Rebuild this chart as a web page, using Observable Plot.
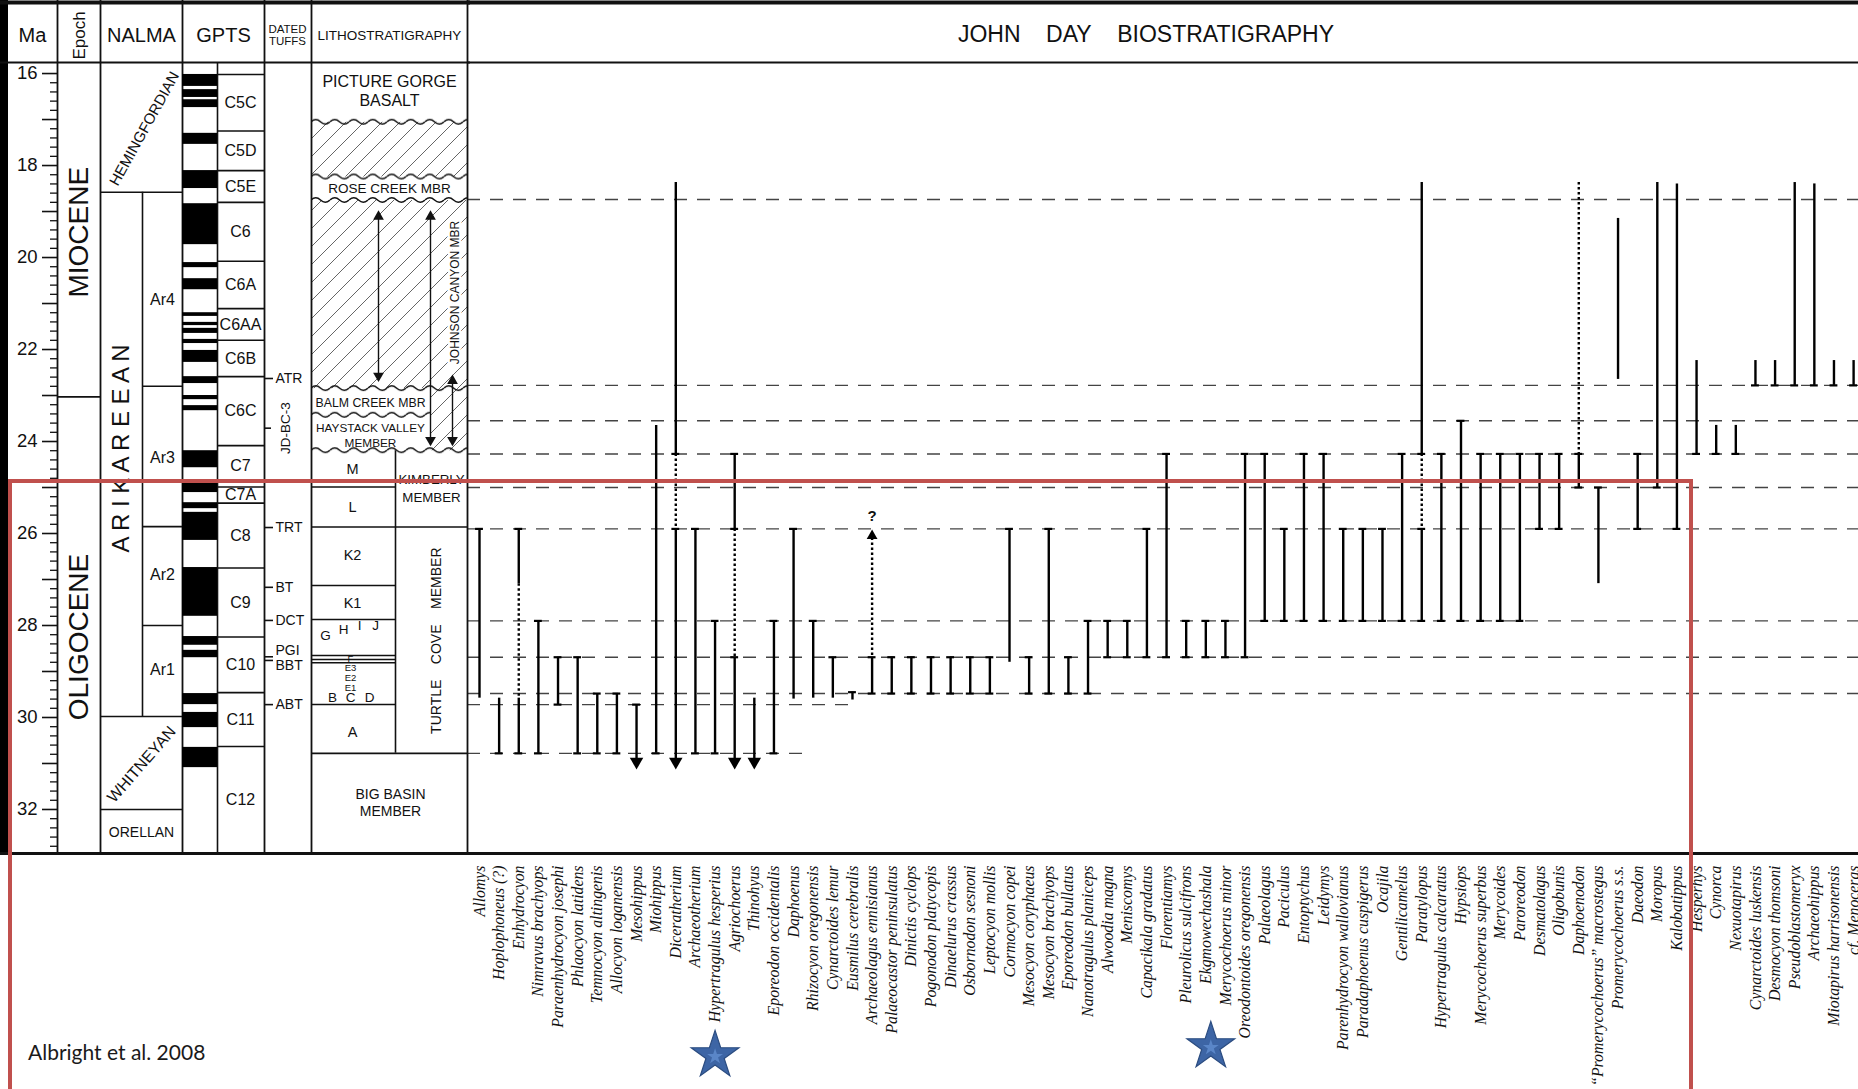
<!DOCTYPE html>
<html><head><meta charset="utf-8">
<script src="https://cdn.jsdelivr.net/npm/d3@7"></script>
<script src="https://cdn.jsdelivr.net/npm/@observablehq/plot@0.6"></script>
<style>
html,body{margin:0;padding:0;background:#fff;}
#wrap{position:relative;width:1858px;height:1089px;overflow:hidden;background:#fff;}
.layer{position:absolute;left:0;top:0;}
#redbox{position:absolute;left:8px;top:479px;width:1685px;height:700px;border:4px solid #C0504D;box-sizing:border-box;pointer-events:none;}
#cite{position:absolute;left:28px;top:1041px;font:21px Lato,'Open Sans',sans-serif;color:#1a1a1a;line-height:1;}
</style></head>
<body>
<div id="wrap"><div class="layer" id="R"></div><div class="layer" id="L"></div><div id="redbox"></div><div id="cite">Albright et al. 2008</div></div>
<script>
// ---------------- DATA ----------------
const MA_DOMAIN = [15.76, 32.957];
const maTicks = [16, 18, 20, 22, 24, 26, 28, 30, 32];

const epochs = ["MIOCENE", "OLIGOCENE"];
const epochBoundary = [23.03];
const epochLabelAt = [19.45, 28.25];

const nalma = ["HEMINGFORDIAN", "A R I K A R E E A N", "WHITNEYAN", "ORELLAN"];
const nalmaBoundaries = [18.58, 29.98, 32.0];
const nalmaLabelAt = [17.2, 24.15, 31.02, 32.49];
const subages = ["Ar4", "Ar3", "Ar2", "Ar1"];
const subageBounds = [18.58, 22.8, 25.85, 28.0, 29.98];
const subageLabelAt = [20.93, 24.35, 26.9, 28.97];

const chrons = ["C5C","C5D","C5E","C6","C6A","C6AA","C6B","C6C","C7","C7A","C8","C9","C10","C11","C12"];
const chronBounds = [16.02,17.25,18.11,18.80,20.08,21.11,21.80,22.59,24.09,24.99,25.34,26.75,28.25,29.46,30.63,32.957];
const normalTop  = [16.02,16.35,16.57,17.30,18.11,18.83,20.11,20.46,21.20,21.41,21.54,21.78,22.02,22.59,23.00,23.22,24.20,24.91,25.33,25.54,26.74,28.24,28.54,29.48,29.89,30.65];
const normalBase = [16.28,16.52,16.74,17.54,18.50,19.72,20.22,20.70,21.28,21.48,21.65,21.87,22.28,22.74,23.09,23.33,24.57,25.11,25.46,26.15,27.80,28.43,28.70,29.72,30.22,31.09];

const tuffs = ["ATR","TRT","BT","DCT","PGI","BBT","ABT"];
const tuffAge = [22.63, 25.87, 27.17, 27.89, 28.68, 28.76, 29.72];
const tuffLabelAt = [22.63, 25.87, 27.17, 27.89, 28.55, 28.88, 29.72];
const jdTuff = ["JD-BC-3"];
const jdTuffAge = [23.71];

const hatchTop = [17.06, 18.76, 22.85];
const hatchBase = [18.25, 22.85, 24.2];
const hatchZone = ["litho", "litho", "johnson"];
const wavyLevels = [17.06, 18.25, 18.76, 22.85, 23.43, 24.2];
const wavyZone = ["litho", "litho", "litho", "litho", "upperL", "litho"];
const lithoLeftBounds = [24.99, 25.86, 27.13, 27.87, 28.65, 28.74, 28.81, 29.72];
const lithoRightBounds = [25.86];
const lithoBaseBound = [30.78];
const lithoSplitSpan = [24.2, 30.78];
const lithoArrowTop = [18.98, 18.98, 22.55];
const lithoArrowBase = [22.7, 24.1, 24.1];

const lithoLabels = ["PICTURE GORGE\nBASALT", "ROSE CREEK MBR", "BALM CREEK MBR", "HAYSTACK VALLEY\nMEMBER", "KIMBERLY\nMEMBER", "BIG BASIN\nMEMBER"];
const lithoLabelAt = [16.36, 18.5, 23.17, 23.86, 24.99, 31.84];
const johnsonLabel = ["JOHNSON CANYON MBR"];
const johnsonLabelAt = [20.76];
const turtleLabel = ["TURTLE\u00a0\u00a0\u00a0\u00a0COVE\u00a0\u00a0\u00a0\u00a0MEMBER"];
const turtleLabelAt = [28.33];
const unitLetters = ["M", "L", "K2", "K1", "A"];
const unitLetterAt = [24.6, 25.44, 26.48, 27.52, 30.33];
const bedLetters = ["G", "H", "I", "J", "B", "C", "D"];
const bedLetterAt = [28.22, 28.09, 28.0, 28.0, 29.57, 29.57, 29.57];
const fineBeds = ["F", "E3", "E2", "E1"];
const fineBedAt = [28.72, 28.93, 29.13, 29.35];

const headers = ["Ma", "Epoch", "NALMA", "GPTS", "DATED\nTUFFS", "LITHOSTRATIGRAPHY"];
const mainTitle = ["JOHN\u00a0\u00a0\u00a0\u00a0DAY\u00a0\u00a0\u00a0\u00a0BIOSTRATIGRAPHY"];

const taxa = ["Allomys","Hoplophoneus (?)","Enhydrocyon","Nimravus brachyops","Paraenhydrocyon josephi","Phlaocyon latidens","Temnocyon altingenis","Allocyon loganensis","Mesohippus","Miohippus","Diceratherium","Archaeotherium","Hypertragulus hesperius","Agriochoerus","Thinohyus","Eporeodon occidentalis","Daphoenus","Rhizocyon oregonensis","Cynarctoides lemur","Eusmilus cerebralis","Archaeolagus ennisianus","Palaeocastor peninsulatus","Dinictis cyclops","Pogonodon platycopis","Dinaelurus crassus","Osbornodon sesnoni","Leptocyon mollis","Cormocyon copei","Mesocyon coryphaeus","Mesocyon brachyops","Eporeodon bullatus","Nanotragulus planiceps","Alwoodia magna","Meniscomys","Capacikala gradatus","Florentiamys","Pleurolicus sulcifrons","Ekgmowechashala","Merycochoerus minor","Oreodontoides oregonensis","Palaeolagus","Paciculus","Entoptychus","Leidymys","Parenhydrocyon wallovianus","Paradaphoenus cuspigerus","Ocajila","Gentilicamelus","Paratylopus","Hypertragulus calcaratus","Hypsiops","Merycochoerus superbus","Merycoides","Paroreodon","Desmatolagus","Oligobunis","Daphoenodon","\u201cPromerycochoerus\u201d macrostegus","Promerycochoerus s.s.","Daeodon","Moropus","Kalobatippus","Hesperhys","Cynorca","Nexuotapirus","Cynarctoides luskensis","Desmocyon thomsoni","Pseudoblastomeryx","Archaeohippus","Miotapirus harrisonensis","cf. Menoceras"];

// correlation levels (Ma) drawn as dashed lines
const dashedLevels = [18.74, 22.78, 23.55, 24.27, 25.0, 25.9, 27.9, 28.69, 29.48];
const partialLevels = [29.72, 30.78];

// [taxon, youngest Ma, oldest Ma]
const solidRanges = [
  ["Allomys",25.9,29.58],["Hoplophoneus (?)",29.58,30.78],
  ["Enhydrocyon",25.9,27.09],["Enhydrocyon",29.58,30.78],
  ["Nimravus brachyops",27.9,30.78],["Paraenhydrocyon josephi",28.69,29.72],
  ["Phlaocyon latidens",28.69,30.78],["Temnocyon altingenis",29.48,30.78],
  ["Allocyon loganensis",29.48,30.78],["Mesohippus",29.72,30.96],
  ["Miohippus",23.65,30.78],["Diceratherium",18.37,24.27],["Diceratherium",25.9,30.96],
  ["Archaeotherium",25.9,30.78],["Hypertragulus hesperius",27.9,30.78],
  ["Agriochoerus",24.27,25.9],["Agriochoerus",28.69,30.96],["Thinohyus",29.58,30.96],
  ["Eporeodon occidentalis",27.9,30.78],["Daphoenus",25.9,29.6],
  ["Rhizocyon oregonensis",27.9,29.58],["Cynarctoides lemur",28.69,29.58],
  ["Eusmilus cerebralis",29.45,29.62],["Archaeolagus ennisianus",28.69,29.48],
  ["Palaeocastor peninsulatus",28.69,29.48],["Dinictis cyclops",28.69,29.48],
  ["Pogonodon platycopis",28.69,29.48],["Dinaelurus crassus",28.69,29.48],
  ["Osbornodon sesnoni",28.69,29.48],["Leptocyon mollis",28.69,29.48],
  ["Cormocyon copei",25.9,28.8],["Mesocyon coryphaeus",28.69,29.48],
  ["Mesocyon brachyops",25.9,29.48],["Eporeodon bullatus",28.69,29.48],
  ["Nanotragulus planiceps",27.9,29.48],["Alwoodia magna",27.9,28.69],
  ["Meniscomys",27.9,28.69],["Capacikala gradatus",25.9,28.69],
  ["Florentiamys",24.27,28.69],["Pleurolicus sulcifrons",27.9,28.69],
  ["Ekgmowechashala",27.9,28.69],["Merycochoerus minor",27.9,28.69],
  ["Oreodontoides oregonensis",24.27,28.69],["Palaeolagus",24.27,27.9],
  ["Paciculus",25.9,27.9],["Entoptychus",24.27,27.9],["Leidymys",24.27,27.9],
  ["Parenhydrocyon wallovianus",25.9,27.9],["Paradaphoenus cuspigerus",25.9,27.9],
  ["Ocajila",25.9,27.9],["Gentilicamelus",24.27,27.9],
  ["Paratylopus",18.37,24.27],["Paratylopus",25.9,27.9],
  ["Hypertragulus calcaratus",24.27,27.9],["Hypsiops",23.55,27.9],
  ["Merycochoerus superbus",24.27,27.9],["Merycoides",24.27,27.9],
  ["Paroreodon",24.27,27.9],["Desmatolagus",24.27,25.9],["Oligobunis",24.27,25.9],
  ["Daphoenodon",24.27,25.0],["\u201cPromerycochoerus\u201d macrostegus",25.0,27.09],
  ["Promerycochoerus s.s.",19.15,22.65],["Daeodon",24.27,25.9],
  ["Moropus",18.37,25.0],["Kalobatippus",18.4,25.9],
  ["Hesperhys",22.24,24.27],["Cynorca",23.65,24.27],["Nexuotapirus",23.65,24.27],
  ["Cynarctoides luskensis",22.24,22.78],["Desmocyon thomsoni",22.24,22.78],
  ["Pseudoblastomeryx",18.37,22.78],["Archaeohippus",18.4,22.78],
  ["Miotapirus harrisonensis",22.24,22.78],["cf. Menoceras",22.24,22.78]
];
const dottedRanges = [
  ["Enhydrocyon",27.09,29.58],["Diceratherium",24.27,25.9],["Agriochoerus",25.9,28.69],
  ["Archaeolagus ennisianus",26.1,28.69],["Paratylopus",24.27,25.9],["Daphoenodon",18.37,24.27]
];
const arrowsDown = [["Mesohippus",30.96],["Diceratherium",30.96],["Agriochoerus",30.96],["Thinohyus",30.96]];
const arrowsUp = [["Archaeolagus ennisianus",26.05]];
const queried = [["Archaeolagus ennisianus",25.62]];
const starred = ["Hypertragulus hesperius", "Ekgmowechashala"];

// ---------------- LAYOUT (pixels) ----------------
const LX = {
  bar: [0, 8], tickMajor: [42, 57], tickMinor: [50, 57], maLabel: 37,
  epoch: [57, 100], epochLabel: 79, nalma: [100, 182], arikSplit: 142,
  subLabel: 162, polarity: [182, 217], chron: [217, 264], chronLabel: 240,
  tuffTick: [264, 273], tuffLabel: 275, jdLabel: 285,
  litho: [311, 467], upperL: [311, 430], johnson: [430, 467],
  lowerL: [311, 395], lowerR: [395, 467], lowerSplit: 395,
  edges: [57, 100, 182, 264, 311, 467],
  headerX: [32, 79, 141, 223, 287, 389],
  headerSize: [20, 17, 20, 20, 11.5, 13.5],
  headerDy: -27,
  nalmaX: [144, 121, 141, 141], nalmaRotate: [-61, -90, -49, 0], nalmaSize: [15, 24, 16, 14],
  lithoX: [389, 389, 370, 370, 431, 390], lithoSize: [16, 13.5, 12.3, 11.8, 13.3, 14], lithoLH: [1.2, 1, 1, 1.25, 1.4, 1.2],
  lithoArrowX: [378, 430, 452], johnsonX: 455, turtleX: 436, unitX: 352,
  bedX: [325, 343, 359, 375, 332, 350, 369], fineX: 350
};
const taxonStep = 19.63, firstTaxonX = 479;

const FONT = "'Liberation Sans', Arial, Helvetica, sans-serif";
const INK = "#111";

// ---------------- LEFT PANEL ----------------
const minorTicks = d3.range(160, 330, 2).map(v => v / 10).filter(v => Math.abs(v - Math.round(v)) > 1e-6);
const intTicks = d3.range(16, 33);
const mid = (a, i) => (a[i] + a[i + 1]) / 2;

const marksL = [
  Plot.rect(hatchTop, {x1: (d, i) => LX[hatchZone[i]][0], x2: (d, i) => LX[hatchZone[i]][1], y1: d => d, y2: (d, i) => hatchBase[i], fill: "url(#hatch)"}),
  ...wavyLevels.map((v, i) => Plot.rect([v], {x1: LX[wavyZone[i]][0], x2: LX[wavyZone[i]][1], y1: d => d, y2: d => d, insetTop: -5, insetBottom: -5, fill: `url(#wave${i})`})),
  Plot.rect([0], {x1: LX.bar[0], x2: LX.bar[1], y1: MA_DOMAIN[0], y2: MA_DOMAIN[1], insetTop: -62, fill: "black"}),
  Plot.ruleX(LX.edges, {x: d => d, insetTop: -62, stroke: INK, strokeWidth: 1.8}),
  Plot.ruleX([LX.chron[0]], {x: d => d, stroke: INK, strokeWidth: 1.6}),
  Plot.ruleY([MA_DOMAIN[0]], {y: d => d, stroke: INK, strokeWidth: 2}),
  Plot.ruleY([MA_DOMAIN[0]], {y: d => d, dy: -60, stroke: INK, strokeWidth: 4}),
  Plot.ruleY([MA_DOMAIN[1]], {y: d => d, stroke: INK, strokeWidth: 3}),
  Plot.ruleY(intTicks, {y: d => d, x1: LX.tickMajor[0], x2: LX.tickMajor[1], stroke: INK, strokeWidth: 1.6}),
  Plot.ruleY(minorTicks, {y: d => d, x1: LX.tickMinor[0], x2: LX.tickMinor[1], stroke: INK, strokeWidth: 1.3}),
  Plot.text(maTicks, {y: d => d, x: LX.maLabel, text: d => String(d), textAnchor: "end", fontSize: 18.5, fill: INK}),
  Plot.ruleY(epochBoundary, {y: d => d, x1: LX.epoch[0], x2: LX.epoch[1], stroke: INK, strokeWidth: 1.6}),
  Plot.text(epochs, {x: LX.epochLabel, y: (d, i) => epochLabelAt[i], text: d => d, rotate: -90, fontSize: 28, fill: INK}),
  Plot.ruleY(nalmaBoundaries, {y: d => d, x1: LX.nalma[0], x2: LX.nalma[1], stroke: INK, strokeWidth: 1.6}),
  Plot.ruleX([LX.arikSplit], {x: d => d, y1: subageBounds[0], y2: subageBounds[4], stroke: INK, strokeWidth: 1.6}),
  Plot.ruleY(subageBounds.slice(1, 4), {y: d => d, x1: LX.arikSplit, x2: LX.nalma[1], stroke: INK, strokeWidth: 1.6}),
  ...nalma.map((n, i) => Plot.text([n], {x: LX.nalmaX[i], y: nalmaLabelAt[i], text: d => d, rotate: LX.nalmaRotate[i], fontSize: LX.nalmaSize[i], fill: INK})),
  Plot.text(subages, {x: LX.subLabel, y: (d, i) => subageLabelAt[i], text: d => d, fontSize: 16, fill: INK}),
  Plot.rect(normalTop, {x1: LX.polarity[0], x2: LX.polarity[1], y1: d => d, y2: (d, i) => normalBase[i], fill: "black"}),
  Plot.ruleY(chronBounds.slice(0, -1), {y: d => d, x1: LX.chron[0], x2: LX.chron[1], stroke: INK, strokeWidth: 1.6}),
  Plot.text(chrons, {x: LX.chronLabel, y: (d, i) => mid(chronBounds, i), text: d => d, fontSize: 16, fill: INK}),
  Plot.ruleY(tuffAge, {y: d => d, x1: LX.tuffTick[0], x2: LX.tuffTick[1], stroke: INK, strokeWidth: 1.6}),
  Plot.text(tuffs, {x: LX.tuffLabel, y: (d, i) => tuffLabelAt[i], text: d => d, textAnchor: "start", fontSize: 14, fill: INK}),
  Plot.ruleY(jdTuffAge, {y: d => d, x1: LX.tuffTick[0], x2: LX.tuffTick[1] - 2, stroke: INK, strokeWidth: 1.6}),
  Plot.text(jdTuff, {x: LX.jdLabel, y: (d, i) => jdTuffAge[i], text: d => d, rotate: -90, fontSize: 13.5, fill: INK}),
  Plot.ruleY(lithoLeftBounds, {y: d => d, x1: LX.lowerL[0], x2: LX.lowerL[1], stroke: INK, strokeWidth: 1.5}),
  Plot.ruleY(lithoRightBounds, {y: d => d, x1: LX.lowerR[0], x2: LX.lowerR[1], stroke: INK, strokeWidth: 1.6}),
  Plot.ruleY(lithoBaseBound, {y: d => d, x1: LX.litho[0], x2: LX.litho[1], stroke: INK, strokeWidth: 1.6}),
  Plot.ruleX([LX.lowerSplit], {x: d => d, y1: lithoSplitSpan[0], y2: lithoSplitSpan[1], stroke: INK, strokeWidth: 1.6}),
  Plot.ruleX(lithoArrowTop, {x: (d, i) => LX.lithoArrowX[i], y1: d => d + 0.1, y2: (d, i) => lithoArrowBase[i] - 0.1, stroke: INK, strokeWidth: 1.4}),
  Plot.dot(lithoArrowTop, {x: (d, i) => LX.lithoArrowX[i], y: d => d + 0.13, symbol: "triangle", r: 4, fill: INK, stroke: "none"}),
  Plot.dot(lithoArrowBase, {x: (d, i) => LX.lithoArrowX[i], y: d => d - 0.13, symbol: "triangle", rotate: 180, r: 4, fill: INK, stroke: "none"}),
  ...lithoLabels.map((n, i) => Plot.text([n], {x: LX.lithoX[i], y: lithoLabelAt[i], text: d => d, fontSize: LX.lithoSize[i], lineHeight: LX.lithoLH[i], fill: INK})),
  Plot.text(johnsonLabel, {x: LX.johnsonX, y: (d, i) => johnsonLabelAt[i], text: d => d, rotate: -90, fontSize: 12, fill: INK, stroke: "white", strokeWidth: 5}),
  Plot.text(turtleLabel, {x: LX.turtleX, y: (d, i) => turtleLabelAt[i], text: d => d, rotate: -90, fontSize: 14, fill: INK}),
  Plot.text(unitLetters, {x: LX.unitX, y: (d, i) => unitLetterAt[i], text: d => d, fontSize: 14.5, fill: INK}),
  Plot.text(bedLetters, {x: (d, i) => LX.bedX[i], y: (d, i) => bedLetterAt[i], text: d => d, fontSize: 13.5, fill: INK}),
  Plot.text(fineBeds, {x: LX.fineX, y: (d, i) => fineBedAt[i], text: d => d, fontSize: 9.5, fill: INK}),
  ...headers.map((h, i) => Plot.text([h], {x: LX.headerX[i], frameAnchor: "top", lineAnchor: "middle", dy: LX.headerDy, text: d => d, fontSize: LX.headerSize[i], lineHeight: 1.05, rotate: i === 1 ? -90 : 0, fill: INK}))
];

const L = Plot.plot({
  width: 470, height: 853, marginTop: 62, marginBottom: 0, marginLeft: 0, marginRight: 0,
  x: {domain: [0, 470], axis: null},
  y: {domain: MA_DOMAIN, reverse: true, axis: null},
  style: {background: "transparent", fontFamily: FONT, color: INK, overflow: "visible", maxWidth: "none"},
  marks: marksL
});
document.getElementById("L").appendChild(L);

{
  const svg = L.tagName.toLowerCase() === "svg" ? L : L.querySelector("svg");
  const y = L.scale("y");
  const defs = d3.select(svg).insert("defs", ":first-child");
  const hp = defs.append("pattern").attr("id", "hatch").attr("patternUnits", "userSpaceOnUse").attr("width", 18).attr("height", 18);
  hp.append("path").attr("d", "M0,18L18,0M-4.5,4.5L4.5,-4.5M13.5,22.5L22.5,13.5").attr("stroke", "#555").attr("stroke-width", 0.9).attr("fill", "none");
  wavyLevels.forEach((v, i) => {
    const py = y.apply(v);
    const p = defs.append("pattern").attr("id", `wave${i}`).attr("patternUnits", "userSpaceOnUse")
      .attr("x", 311).attr("y", py - 5).attr("width", 19).attr("height", 10);
    p.append("path").attr("d", "M0,5 Q4.75,0.5 9.5,5 T19,5").attr("stroke", "#111").attr("stroke-width", 1.5).attr("fill", "none");
  });
}

// ---------------- RIGHT PANEL ----------------
const levelsAll = dashedLevels.concat(partialLevels);
const caps = [];
for (const [t, a, b] of solidRanges) for (const v of [a, b]) if (levelsAll.some(l => Math.abs(l - v) <= 0.08)) caps.push([t, v]);

const SERIF = "'Liberation Serif', 'Times New Roman', serif";
const R = Plot.plot({
  width: 1858, height: 1089, marginTop: 62, marginBottom: 236, marginLeft: 467, marginRight: 0,
  x: {type: "band", domain: taxa, range: [firstTaxonX - taxonStep / 2, firstTaxonX + (taxa.length - 0.5) * taxonStep], paddingInner: 0.6, paddingOuter: 0.3, align: 0.5, round: false, axis: null},
  y: {domain: MA_DOMAIN, reverse: true, axis: null},
  style: {background: "transparent", fontFamily: FONT, color: INK, overflow: "visible", maxWidth: "none"},
  marks: [
    Plot.ruleY(dashedLevels, {y: d => d, stroke: "#444", strokeWidth: 1.4, strokeDasharray: "13,10"}),
    Plot.ruleY([partialLevels[0]], {y: d => d, insetRight: 1008, stroke: "#444", strokeWidth: 1.4, strokeDasharray: "13,10"}),
    Plot.ruleY([partialLevels[1]], {y: d => d, insetRight: 1053, stroke: "#444", strokeWidth: 1.4, strokeDasharray: "13,10"}),
    Plot.ruleX(dottedRanges, {x: d => d[0], y1: d => d[1], y2: d => d[2], stroke: "black", strokeWidth: 2.4, strokeDasharray: "2.5,2.5"}),
    Plot.ruleX(solidRanges, {x: d => d[0], y1: d => d[1], y2: d => d[2], stroke: "black", strokeWidth: 2.4}),
    Plot.tickY(caps, {x: d => d[0], y: d => d[1], stroke: "black", strokeWidth: 2.2}),
    Plot.dot(arrowsDown, {x: d => d[0], y: d => d[1], symbol: "triangle", rotate: 180, r: 5, fill: "black", stroke: "none"}),
    Plot.dot(arrowsUp, {x: d => d[0], y: d => d[1], symbol: "triangle", r: 4, fill: "black", stroke: "none"}),
    Plot.text(queried, {x: d => d[0], y: d => d[1], text: () => "?", fontSize: 15, fontWeight: "bold", fill: INK}),
    Plot.text(taxa, {x: d => d, text: d => d, frameAnchor: "bottom", lineAnchor: "middle", dy: 12, rotate: -90, textAnchor: "end", fontFamily: SERIF, fontStyle: "italic", fontSize: 15.8, fill: INK}),
    Plot.dot([starred[0]], {x: d => d, frameAnchor: "bottom", dy: 202, symbol: "star", r: 15, fill: "#3d65a5", stroke: "#2b4c80", strokeWidth: 1.2}),
    Plot.dot([starred[1]], {x: d => d, frameAnchor: "bottom", dx: 5, dy: 193, symbol: "star", r: 15, fill: "#3d65a5", stroke: "#2b4c80", strokeWidth: 1.2}),
    Plot.dot([starred[0]], {x: d => d, frameAnchor: "bottom", dy: 203, symbol: "star", r: 5, fill: "#5a86c8", stroke: "none"}),
    Plot.dot([starred[1]], {x: d => d, frameAnchor: "bottom", dx: 5, dy: 194, symbol: "star", r: 5, fill: "#5a86c8", stroke: "none"}),
    Plot.ruleY([MA_DOMAIN[0]], {y: d => d, stroke: INK, strokeWidth: 2}),
    Plot.ruleY([MA_DOMAIN[0]], {y: d => d, dy: -60, stroke: INK, strokeWidth: 4}),
    Plot.ruleY([MA_DOMAIN[1]], {y: d => d, stroke: INK, strokeWidth: 3}),
    Plot.text(mainTitle, {frameAnchor: "top", lineAnchor: "middle", dy: -27.5, dx: -17, text: d => d, fontSize: 23, fill: INK})
  ]
});
document.getElementById("R").appendChild(R);
</script></body></html>
